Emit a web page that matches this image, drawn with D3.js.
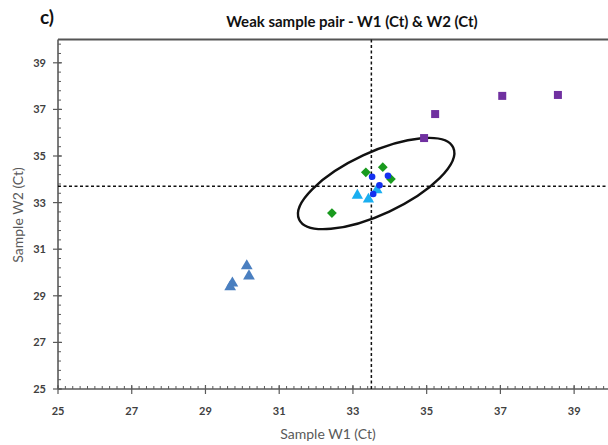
<!DOCTYPE html>
<html>
<head>
<meta charset="utf-8">
<script src="https://cdn.jsdelivr.net/npm/d3@7"></script>
<style>
  body { margin: 0; background: #fff; }
  svg { display: block; font-family: Lato, 'Open Sans', sans-serif; }
</style>
</head>
<body>
<div id="chart"></div>
<script>
// values
const ticksX = [25, 27, 29, 31, 33, 35, 37, 39]
const ticksY = [25, 27, 29, 31, 33, 35, 37, 39]

const purpleSquares = [
  { w1: 34.93, w2: 35.77 },
  { w1: 35.23, w2: 36.8 },
  { w1: 37.05, w2: 37.58 },
  { w1: 38.56, w2: 37.62 }
]
const greenDiamonds = [
  { w1: 33.35, w2: 34.3 },
  { w1: 33.81, w2: 34.52 },
  { w1: 34.03, w2: 34.01 },
  { w1: 32.43, w2: 32.55 }
]
const blueCircles = [
  { w1: 33.52, w2: 34.11 },
  { w1: 33.95, w2: 34.15 },
  { w1: 33.72, w2: 33.74 },
  { w1: 33.55, w2: 33.37 }
]
const cyanTriangles = [
  { w1: 33.12, w2: 33.31 },
  { w1: 33.42, w2: 33.14 },
  { w1: 33.65, w2: 33.54 }
]
const steelTriangles = [
  { w1: 30.12, w2: 30.28 },
  { w1: 30.18, w2: 29.85 },
  { w1: 29.73, w2: 29.54 },
  { w1: 29.67, w2: 29.38 }
]
const meanW1 = 33.5
const meanW2 = 33.7
const ellipseCenter = { w1: 33.63, w2: 33.82 }

const margin = { top: 39.5, left: 58 }
const width = 553
const height = 349.5

const svg = d3
  .select('#chart')
  .append('svg')
  .attr('width', 608)
  .attr('height', 445)

const g = svg.append('g').attr('transform', `translate(${margin.left},${margin.top})`)

const x = d3.scaleLinear().domain([25, 40]).range([0, width])
const y = d3.scaleLinear().domain([25, 40]).range([height, 0])

const axisColor = '#5a5a5a'

// top frame line
g.append('line')
  .attr('x1', 0).attr('x2', width)
  .attr('y1', 0).attr('y2', 0)
  .attr('stroke', '#555').attr('stroke-width', 2.2)

// minor ticks
g.selectAll('.xminor')
  .data(d3.range(25, 40.01, 0.2))
  .enter().append('line')
  .attr('x1', d => x(d)).attr('x2', d => x(d))
  .attr('y1', height - 3).attr('y2', height)
  .attr('stroke', axisColor).attr('stroke-width', 1)

g.selectAll('.yminor')
  .data(d3.range(25, 40.01, 0.4))
  .enter().append('line')
  .attr('x1', 0).attr('x2', 3)
  .attr('y1', d => y(d)).attr('y2', d => y(d))
  .attr('stroke', axisColor).attr('stroke-width', 1)

// major ticks (cross the axis)
g.selectAll('.xmajor')
  .data(ticksX)
  .enter().append('line')
  .attr('x1', d => x(d)).attr('x2', d => x(d))
  .attr('y1', height - 4).attr('y2', height + 5)
  .attr('stroke', axisColor).attr('stroke-width', 1.2)

g.selectAll('.ymajor')
  .data(ticksY)
  .enter().append('line')
  .attr('x1', -5).attr('x2', 4)
  .attr('y1', d => y(d)).attr('y2', d => y(d))
  .attr('stroke', axisColor).attr('stroke-width', 1.2)

// axis lines
g.append('line')
  .attr('x1', 0).attr('x2', width)
  .attr('y1', height).attr('y2', height)
  .attr('stroke', axisColor).attr('stroke-width', 1.6)
g.append('line')
  .attr('x1', 0).attr('x2', 0)
  .attr('y1', 0).attr('y2', height)
  .attr('stroke', axisColor).attr('stroke-width', 1.6)

// tick labels
g.selectAll('.xlabel')
  .data(ticksX)
  .enter().append('text')
  .attr('x', d => x(d))
  .attr('y', height + 26)
  .attr('text-anchor', 'middle')
  .attr('font-size', 11)
  .attr('font-weight', 'bold')
  .attr('fill', '#404040')
  .text(d => d)

g.selectAll('.ylabel')
  .data(ticksY)
  .enter().append('text')
  .attr('x', -12)
  .attr('y', d => y(d) + 4)
  .attr('text-anchor', 'end')
  .attr('font-size', 11)
  .attr('font-weight', 'bold')
  .attr('fill', '#404040')
  .text(d => d)

// dashed mean lines
g.append('line')
  .attr('x1', x(meanW1)).attr('x2', x(meanW1))
  .attr('y1', 0).attr('y2', height)
  .attr('stroke', '#111').attr('stroke-width', 1.5)
  .attr('stroke-dasharray', '3,2.5')
g.append('line')
  .attr('x1', 0).attr('x2', width)
  .attr('y1', y(meanW2)).attr('y2', y(meanW2))
  .attr('stroke', '#111').attr('stroke-width', 1.5)
  .attr('stroke-dasharray', '3,2.5')

// ellipse
g.append('ellipse')
  .attr('cx', 0).attr('cy', 0)
  .attr('rx', 85).attr('ry', 31)
  .attr('transform', `translate(${x(ellipseCenter.w1)},${y(ellipseCenter.w2)}) rotate(-25)`)
  .attr('fill', 'none')
  .attr('stroke', '#111')
  .attr('stroke-width', 2.4)

// markers
const sym = (type, size) => d3.symbol().type(type).size(size)()

g.selectAll('.steel')
  .data(steelTriangles)
  .enter().append('path')
  .attr('d', sym(d3.symbolTriangle, 60))
  .attr('transform', d => `translate(${x(d.w1)},${y(d.w2)})`)
  .attr('fill', '#4a7fc0')

g.selectAll('.purple')
  .data(purpleSquares)
  .enter().append('rect')
  .attr('x', d => x(d.w1) - 4)
  .attr('y', d => y(d.w2) - 4)
  .attr('width', 8).attr('height', 8)
  .attr('fill', '#7030a0')

g.selectAll('.green')
  .data(greenDiamonds)
  .enter().append('path')
  .attr('d', sym(d3.symbolSquare, 48))
  .attr('transform', d => `translate(${x(d.w1)},${y(d.w2)}) rotate(45)`)
  .attr('fill', '#199a1e')

g.selectAll('.cyan')
  .data(cyanTriangles)
  .enter().append('path')
  .attr('d', sym(d3.symbolTriangle, 55))
  .attr('transform', d => `translate(${x(d.w1)},${y(d.w2)})`)
  .attr('fill', '#1aaef0')

g.selectAll('.blue')
  .data(blueCircles)
  .enter().append('circle')
  .attr('cx', d => x(d.w1))
  .attr('cy', d => y(d.w2))
  .attr('r', 3.3)
  .attr('fill', '#1430f0')

// titles
svg.append('text')
  .attr('x', 40).attr('y', 24)
  .attr('font-size', 19).attr('font-weight', 'bold')
  .attr('fill', '#111')
  .text('c)')

svg.append('text')
  .attr('x', 352).attr('y', 27)
  .attr('text-anchor', 'middle')
  .attr('font-size', 15).attr('font-weight', 'bold')
  .attr('fill', '#111')
  .text('Weak sample pair - W1 (Ct) & W2 (Ct)')

svg.append('text')
  .attr('x', 328).attr('y', 439)
  .attr('text-anchor', 'middle')
  .attr('font-size', 14)
  .attr('fill', '#595959')
  .text('Sample W1 (Ct)')

svg.append('text')
  .attr('transform', 'translate(23,215) rotate(-90)')
  .attr('text-anchor', 'middle')
  .attr('font-size', 14)
  .attr('fill', '#595959')
  .text('Sample W2 (Ct)')
</script>
</body>
</html>
